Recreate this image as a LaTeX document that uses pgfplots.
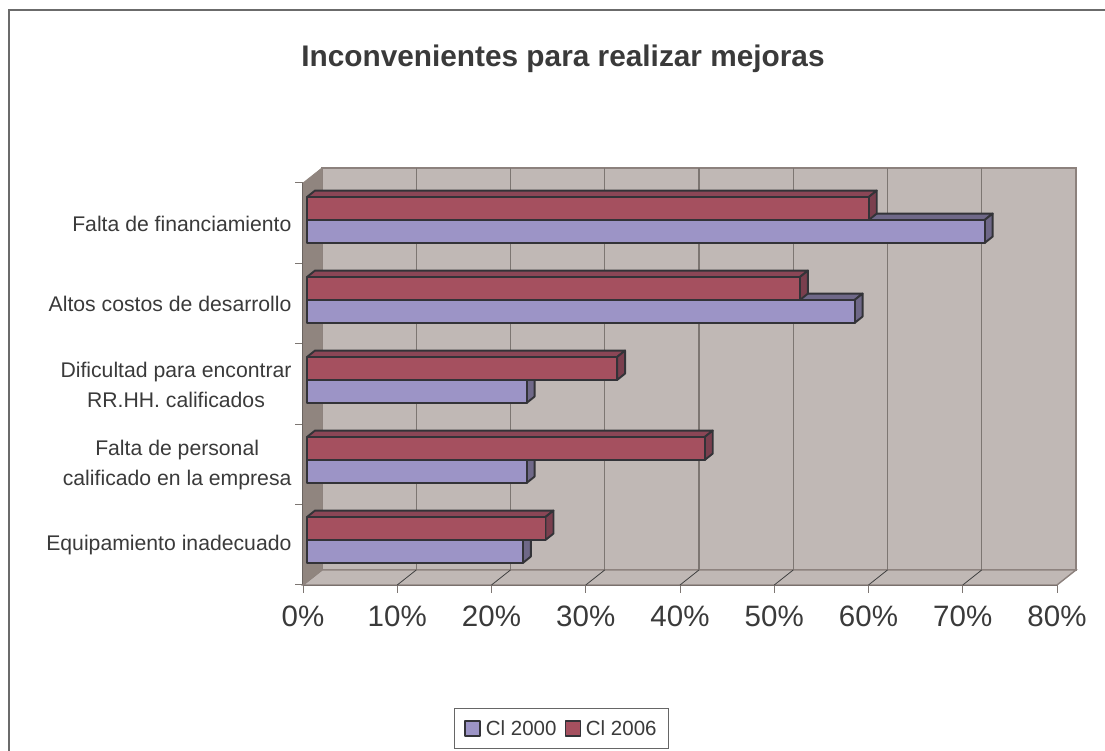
\documentclass[border=0pt]{standalone}
\usepackage{pgfplots}
\usepackage{pgfplotstable}
\usepackage{fontspec}
\setmainfont{Liberation Sans}
\pgfplotsset{compat=1.18}
\definecolor{txt}{HTML}{3A3A3A}
\definecolor{wallc}{HTML}{C0B8B5}
\definecolor{sidewall}{HTML}{90857F}
\definecolor{wedge}{HTML}{8C817D}
\definecolor{gridc}{HTML}{7D7672}
\definecolor{edgec}{HTML}{333338}
\definecolor{bluef}{HTML}{9C94C6}
\definecolor{bluet}{HTML}{6F6888}
\definecolor{reda}{HTML}{A5505F}
\definecolor{redt}{HTML}{8A4656}
\definecolor{reds}{HTML}{7A3F4E}
% value (percent), y position of the group centre
\pgfplotstableread{
v y
22.9 0.5597
23.3 1.5547
23.3 2.5497
58.1 3.5448
71.9 4.5398
}\tabblue
\pgfplotstableread{
v y
25.3 0.5597
42.2 1.5547
32.9 2.5497
52.3 3.5448
59.6 4.5398
}\tabred
\newcommand\faces[4]{%
 \pgfmathsetmacro\fya{#1}%
 \pgfmathsetmacro\fyb{#1+0.286}%
 \pgfmathsetmacro\fyc{#1+0.286+0.08}%
 \pgfmathsetmacro\fyd{#1+0.08}%
 \pgfmathsetmacro\fxb{#2+0.849}%
 \edef\tmp{%
 \noexpand\addplot[bedge,fill=#3,forget plot,xshift=4pt] coordinates {(0,\fyb) (#2,\fyb) (\fxb,\fyc) (0.849,\fyc)} --cycle;
 \noexpand\addplot[bedge,fill=#4,forget plot,xshift=4pt] coordinates {(#2,\fya) (\fxb,\fyd) (\fxb,\fyc) (#2,\fyb)} --cycle;
 }\tmp}
\begin{document}
\begin{tikzpicture}[x=1pt,y=1pt]
\useasboundingbox (0,0) rectangle (1105,751);
\draw[color=black!58,line width=2pt] (1105,740.5) -- (8.5,740.5) -- (8.5,0);
\begin{axis}[
  at={(303pt,166pt)},anchor=south west,
  scale only axis,width=754pt,height=402pt,
  xmin=0,xmax=80,ymin=0,ymax=5,
  enlargelimits=false,clip=false,
  axis x line=bottom,axis y line=left,
  axis line style={-,color=gridc!70!black,line width=1.6pt},
  tick align=outside,major tick length=8pt,
  tick style={color=gridc,line width=1pt},
  xtick={0,10,20,30,40,50,60,70,80},
  xticklabels={0\%,10\%,20\%,30\%,40\%,50\%,60\%,70\%,80\%},
  xticklabel style={font=\fontsize{29.5}{32}\selectfont,text=txt,yshift=-9pt},
  ytick={0,1,2,3,4,5},
  y tick label as interval,
  yticklabels={Equipamiento inadecuado,{Falta de personal\\calificado en la empresa},{Dificultad para encontrar\\RR.HH. calificados},Altos costos de desarrollo,Falta de financiamiento},
  yticklabel style={font=\fontsize{21.2}{30}\selectfont,text=txt,align=center,anchor=east,yshift=-0.5pt},
  title={\fontsize{29.8}{32}\selectfont\bfseries Inconvenientes para realizar mejoras},
  title style={at={(0.3448,1.294)},anchor=center,text=txt},
  legend columns=2,
  legend style={at={(0.3429,-0.357)},anchor=center,draw=black!60,line width=1.2pt,
     font=\fontsize{20.5}{24}\selectfont,text=txt,inner xsep=10pt,inner ysep=10pt,
     /tikz/every even column/.style={column sep=6pt}},
  bedge/.style={draw=edgec,line width=1.9pt,line join=round},
  grid=none,
]
% walls and floor
\addplot[fill=wallc,draw=wedge,line width=1.4pt,forget plot] coordinates {(2.016,0.187) (82.016,0.187) (82.016,5.187) (2.016,5.187)} --cycle;
\addplot[fill=wallc,draw=wedge,line width=1.4pt,forget plot] coordinates {(0,0) (80,0) (82.016,0.187) (2.016,0.187)} --cycle;
\addplot[fill=sidewall,draw=sidewall,line width=0.8pt,forget plot] coordinates {(0,0) (2.016,0.187) (2.016,5.187) (0,5)} --cycle;
\pgfplotsforeachungrouped \k in {10,20,30,40,50,60,70}{%
  \pgfmathsetmacro\kb{\k+2.016}%
  \edef\tmp{%
  \noexpand\addplot[draw=gridc,line width=1.4pt,forget plot] coordinates {(\kb,0.187) (\kb,5.187)};
  \noexpand\addplot[draw=black!75,line width=0.8pt,forget plot] coordinates {(\k,0) (\kb,0.187)};
  }\tmp}
% side and top faces of the bars
\pgfplotsforeachungrouped \i in {0,1,2,3,4}{%
  \pgfplotstablegetelem{\i}{v}\of\tabblue\let\vv\pgfplotsretval
  \pgfplotstablegetelem{\i}{y}\of\tabblue\let\yy\pgfplotsretval
  \pgfmathsetmacro\yy{\yy-0.286}%
  \faces{\yy}{\vv}{bluet}{bluet}%
}
\pgfplotsforeachungrouped \i in {0,1,2,3,4}{%
  \pgfplotstablegetelem{\i}{v}\of\tabred\let\vv\pgfplotsretval
  \pgfplotstablegetelem{\i}{y}\of\tabred\let\yy\pgfplotsretval
  \faces{\yy}{\vv}{redt}{reds}%
}
% front faces
\addplot[xbar,bar width=23pt,bar shift=-11.5pt,xshift=4pt,bedge,fill=bluef,area legend,
  legend image code/.code={\draw[draw=edgec,fill=bluef,line width=1.4pt] (0pt,-7.5pt) rectangle (15pt,7.5pt);}]
  table[x=v,y=y]{\tabblue};
\addlegendentry{\hspace{3pt}Cl 2000}
\addplot[xbar,bar width=23pt,bar shift=11.5pt,xshift=4pt,bedge,fill=reda,area legend,
  legend image code/.code={\draw[draw=edgec,fill=reda,line width=1.4pt] (0pt,-7.5pt) rectangle (15pt,7.5pt);}]
  table[x=v,y=y]{\tabred};
\addlegendentry{\hspace{3pt}Cl 2006}
\end{axis}
\end{tikzpicture}
\end{document}
